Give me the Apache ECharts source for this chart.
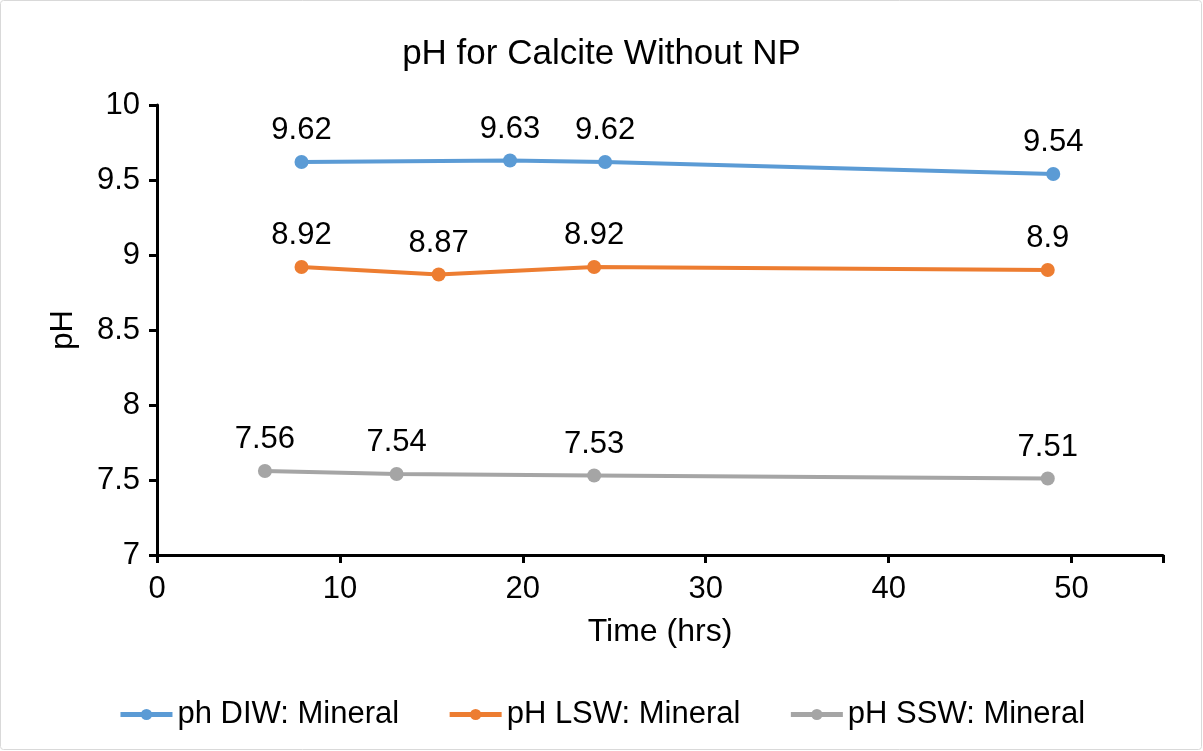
<!DOCTYPE html>
<html>
<head>
<meta charset="utf-8">
<script src="https://cdn.jsdelivr.net/npm/echarts@6/dist/echarts.min.js"></script>
<style>
html,body{margin:0;padding:0;background:#fff;}
#chart{width:1203px;height:751px;}
</style>
</head>
<body>
<div id="chart"></div>
<script>
const titleText = 'pH for Calcite Without NP';
const xAxisName = 'Time (hrs)';
const yAxisName = 'pH';
const seriesNames = ['ph DIW: Mineral', 'pH LSW: Mineral', 'pH SSW: Mineral'];
const diwTime = [7.9, 19.3, 24.5, 49.0];
const diwPH = [9.62, 9.63, 9.62, 9.54];
const lswTime = [7.9, 15.4, 23.9, 48.7];
const lswPH = [8.92, 8.87, 8.92, 8.9];
const sswTime = [5.9, 13.1, 23.9, 48.7];
const sswPH = [7.56, 7.54, 7.53, 7.51];
const colors = ['#5B9BD5', '#ED7D31', '#A5A5A5'];

const FONT = 'Liberation Sans';
const FS = 31;
function pairs(xs, ys){ return xs.map((x,i)=>[x, ys[i]]); }
function mkSeries(name, xs, ys, color){
  return {
    name: name, type: 'line', data: pairs(xs, ys),
    symbol: 'circle', symbolSize: 14,
    lineStyle: {color: color, width: 4},
    itemStyle: {color: color},
    label: {show: true, position: 'top', distance: 9, color: '#000',
      fontFamily: FONT, fontSize: FS,
      formatter: p => String(p.value[1])},
    emphasis: {disabled: true},
    animation: false
  };
}

const chart = echarts.init(document.getElementById('chart'));
chart.setOption({
  animation: false,
  textStyle: {fontFamily: FONT},
  title: {text: titleText, left: 'center', top: 32,
    textStyle: {fontFamily: FONT, fontSize: 35, fontWeight: 'normal', color: '#000'}},
  graphic: [{type: 'rect', shape: {x: 0.5, y: 0.5, width: 1201, height: 749, r: 3},
    style: {fill: 'none', stroke: '#D9D9D9', lineWidth: 1}, silent: true}],
  legend: {
    bottom: 16, left: 'center', itemWidth: 52, itemHeight: 14, itemGap: 48,
    lineStyle: {width: 5},
    textStyle: {fontFamily: FONT, fontSize: FS, color: '#000'},
    data: seriesNames
  },
  grid: {left: 157, right: 40, top: 105, bottom: 196, containLabel: false},
  xAxis: {
    type: 'value', min: 0, max: 55, interval: 10,
    name: xAxisName, nameLocation: 'middle', nameGap: 61,
    nameTextStyle: {fontFamily: FONT, fontSize: 32, color: '#000'},
    axisLine: {lineStyle: {color: '#000', width: 3}},
    axisTick: {show: true, length: 8, lineStyle: {color: '#000', width: 3}},
    axisLabel: {color: '#000', fontFamily: FONT, fontSize: FS, margin: 19,
      formatter: v => (v % 10 === 0 ? String(v) : '')},
    splitLine: {show: false}
  },
  yAxis: {
    type: 'value', min: 7, max: 10, interval: 0.5,
    name: yAxisName, nameLocation: 'middle', nameGap: 78, nameRotate: 90,
    nameTextStyle: {fontFamily: FONT, fontSize: FS, color: '#000'},
    axisLine: {show: true, lineStyle: {color: '#000', width: 3}},
    axisTick: {show: true, length: 8, lineStyle: {color: '#000', width: 3}},
    axisLabel: {color: '#000', fontFamily: FONT, fontSize: FS, margin: 17},
    splitLine: {show: false}
  },
  series: [
    mkSeries(seriesNames[0], diwTime, diwPH, colors[0]),
    mkSeries(seriesNames[1], lswTime, lswPH, colors[1]),
    mkSeries(seriesNames[2], sswTime, sswPH, colors[2])
  ]
});
</script>
</body>
</html>
